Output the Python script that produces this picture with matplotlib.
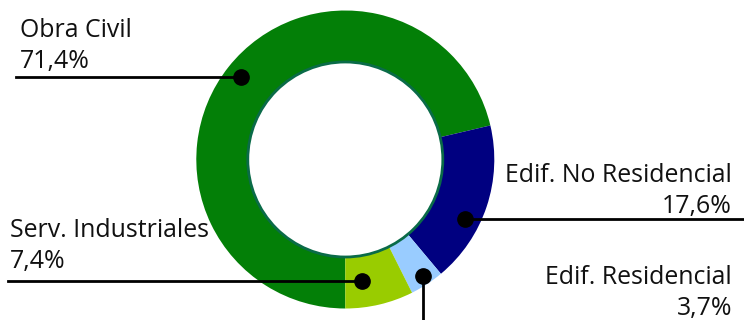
import numpy as np
import matplotlib.pyplot as plt

plt.rcParams['font.family'] = ['Open Sans', 'DejaVu Sans']

# Share by sector
sectores = ['Obra Civil', 'Edif. No Residencial', 'Edif. Residencial', 'Serv. Industriales']
valores = [71.4, 17.6, 3.7, 7.4]
etiquetas = ['71,4%', '17,6%', '3,7%', '7,4%']
colores = ['#037f07', '#000080', '#99ccff', '#99cc00']

W, H = 744, 320
fig = plt.figure(figsize=(W / 100, H / 100), dpi=100)
ax = fig.add_axes([0, 0, 1, 1])

cx, cy = 345.3, H - 159.5
R, r_in = 149, 97.5

wedges, _ = ax.pie(valores, colors=colores, startangle=-90, counterclock=False,
                   radius=R, center=(cx, cy), frame=True,
                   wedgeprops=dict(width=R - r_in, linewidth=0))
ax.set_xlim(0, W)
ax.set_ylim(0, H)
ax.set_aspect('equal')
ax.axis('off')

# thin dark rim on the hole
ax.add_patch(plt.Circle((cx, cy), r_in, fill=False, edgecolor='#0a6b48', linewidth=2, zorder=3))

# anchor points inside the ring: (angle tweak in degrees, radius fraction)
anclas = [(0, 0.895), (-8, 0.90), (0.5, 0.937), (-5.5, 0.822)]
# label text position, alignment and leader end
textos = [
    (20, H - 37, 'left', ('h', 16)),
    (732, H - 182, 'right', ('h', 744)),
    (732, H - 284, 'right', ('v', 0)),
    (10, H - 237, 'left', ('h', 8)),
]

for w, nombre, txt, (da, fr), (tx, ty, ha, (kind, end)) in zip(
        wedges, sectores, etiquetas, anclas, textos):
    ang = np.deg2rad((w.theta1 + w.theta2) / 2 + da)
    px = cx + fr * R * np.cos(ang)
    py = cy + fr * R * np.sin(ang)
    if kind == 'h':
        ax.plot([end, px], [py, py], color='black', lw=2, zorder=4)
    else:
        ax.plot([px, px], [end, py], color='black', lw=2, zorder=4)
    ax.plot(px, py, 'o', color='black', markersize=11, zorder=5)
    ax.text(tx, ty, nombre, ha=ha, va='baseline', fontsize=17.9, color='#111111')
    ax.text(tx, ty - 31, txt, ha=ha, va='baseline', fontsize=17.9, color='#111111')

fig.savefig('out.png', dpi=100)
